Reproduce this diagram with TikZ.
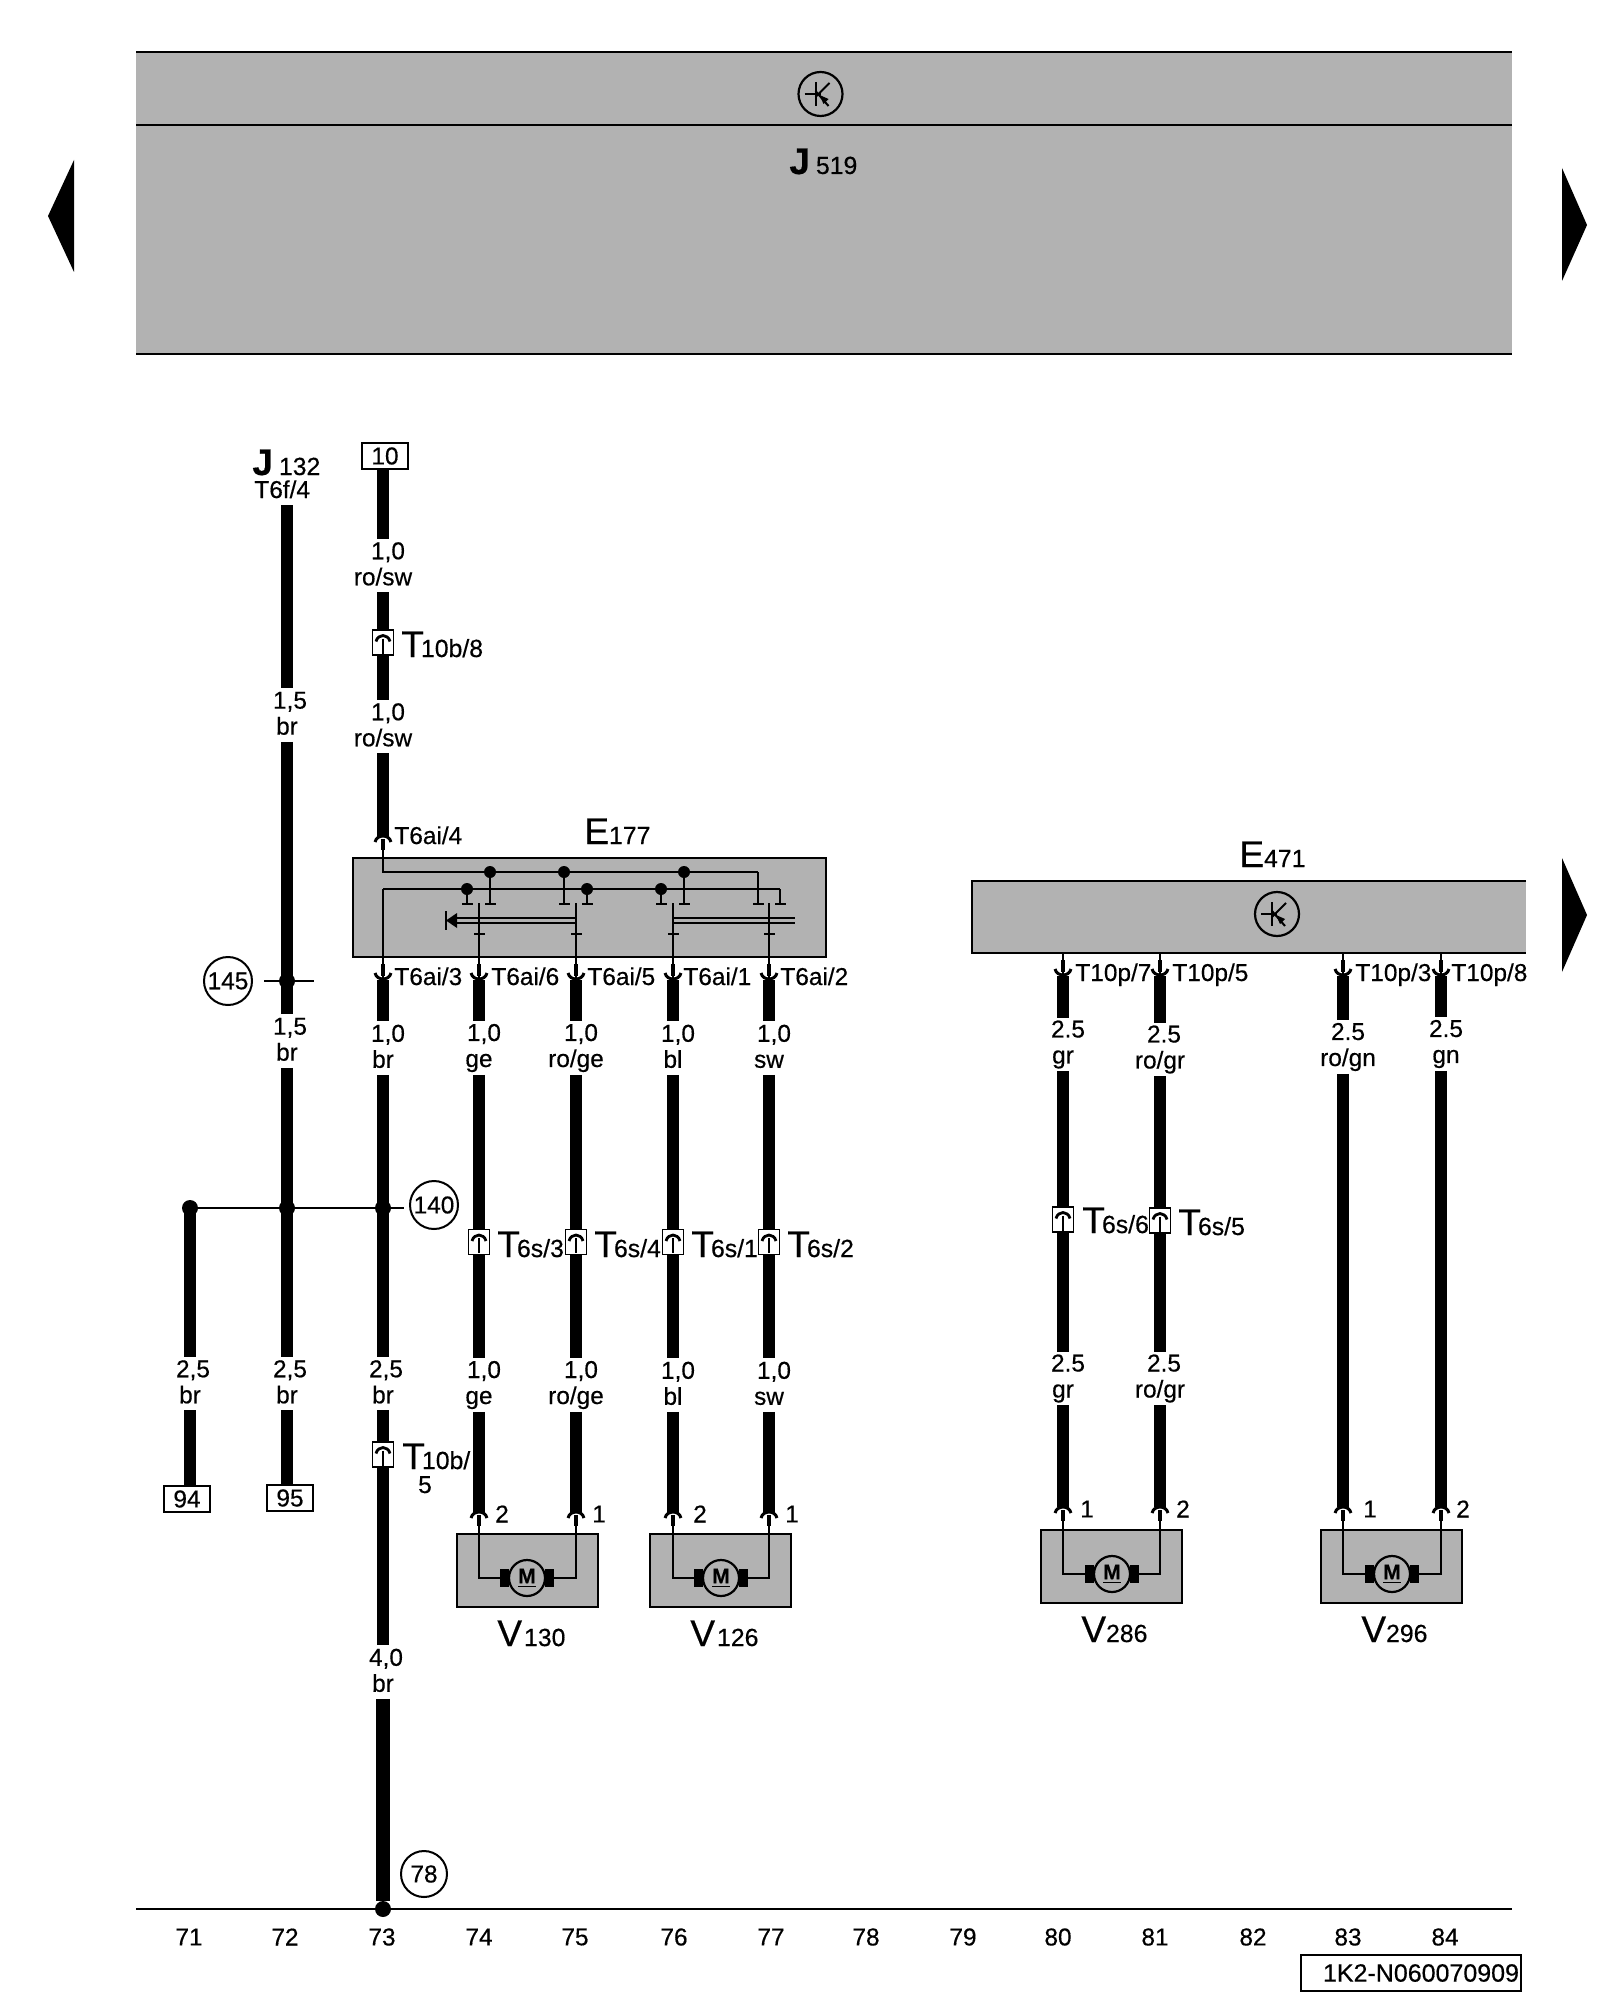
\documentclass[tikz,border=0pt]{standalone}
\usepackage{fontspec}
\setmainfont[FakeBold=0.4]{Liberation Sans}
\usetikzlibrary{arrows.meta}
\definecolor{unitgrey}{HTML}{B2B2B2}
\newcommand{\txtfont}{\fontsize{12.2}{13}\selectfont}
\newcommand{\bigname}[2]{{\fontsize{18.5}{20}\selectfont #1}{\fontsize{12.4}{14}\selectfont #2}}
\newcommand{\boldname}[2]{{\fontsize{18.5}{20}\selectfont\bfseries #1}\hspace{3pt}{\fontsize{12.4}{14}\selectfont #2}}
\newcommand{\plugname}[1]{{\fontsize{18.5}{20}\selectfont T}\hspace{-1.5pt}{\fontsize{12.4}{14}\selectfont #1}}
\newcommand{\topstrut}{\rule{0pt}{11.75pt}}
\newcommand{\botstrut}{\rule[-1.75pt]{0pt}{1.75pt}}
\tikzstyle{wire} = [line width=5.75pt,line cap=butt]
\tikzstyle{widewire} = [line width=6.2pt,line cap=butt]
\tikzstyle{mainwire} = [line width=7pt,line cap=butt]
\tikzstyle{thinwire} = [line width=1.3pt]
\tikzstyle{stub} = [line width=1.3pt,-{Bar[width=5.5pt,line width=1.1pt]}]
\tikzstyle{wlabel} = [inner sep=0pt,minimum height=26.5pt,align=center,font=\txtfont,
  execute at begin node=\topstrut,execute at end node=\botstrut]
\tikzstyle{txt} = [inner sep=0pt,anchor=base west,font=\txtfont]
\tikzstyle{colnum} = [inner sep=0pt,font=\txtfont]
\tikzstyle{partname} = [inner sep=0pt,anchor=base west]
\tikzstyle{joint} = [circle,fill,inner sep=0pt,minimum size=8pt]
\tikzstyle{smalljoint} = [circle,fill,inner sep=0pt,minimum size=6pt]
\tikzstyle{refcircle} = [circle,draw,line width=1pt,fill=white,inner sep=0pt,minimum size=24pt,font=\txtfont]
\tikzstyle{term} = [draw,line width=1pt,fill=white,inner sep=0pt,minimum width=23pt,minimum height=13pt,font=\txtfont]
\tikzstyle{conn} = [draw,line width=.9pt,fill=white,inner sep=0pt,minimum width=10.5pt,minimum height=12.5pt]
\tikzstyle{unit} = [draw,line width=1pt,fill=unitgrey,inner sep=0pt]
\tikzstyle{motorbox} = [unit,minimum width=70.5pt,minimum height=36.5pt]
\tikzstyle{motor} = [circle,draw,line width=1.1pt,fill=unitgrey,inner sep=0pt,minimum size=18pt,font=\fontsize{10.5}{11}\selectfont\bfseries]
\tikzset{
  plugdn/.pic={
    \draw[line width=2.3pt] (0,-16) -- (0,-4);
    \draw[line width=1.5pt] (-8,-7) .. controls (-6,1) and (6,1) .. (8,-7);
  },
  plugup/.pic={
    \draw[line width=2.3pt] (0,3) -- (0,14);
    \draw[line width=1.5pt] (-8,6) .. controls (-6,-2) and (6,-2) .. (8,6);
  },
  connmark/.pic={
    \draw[line width=1.4pt] (-7,-1) .. controls (-5,-9) and (5,-9) .. (7,-1);
    \draw[line width=1.2pt] (0,-4) -- (0,11);
  },
  brushes/.pic={
    \fill (-27,-9) rectangle (-18,9);
    \fill (18,-9) rectangle (27,9);
  },
  transistor/.pic={
    \draw[line width=1.1pt,fill=unitgrey] (0,0) circle (22);
    \draw[line width=1pt] (-5,-12) -- (-5,12);
    \draw[line width=1pt] (-16,0) -- (0,0);
    \draw[line width=1pt] (-5,3) -- (9,-11);
    \draw[line width=1pt] (-5,-3) -- (8,12);
    \fill (-1,1) -- (8,5) -- (3,10) -- cycle;
  }
}
\begin{document}
\begin{tikzpicture}[x=0.5pt,y=-0.5pt]
\useasboundingbox (0,0) rectangle (1600,2000);
%\draw[help lines,step=100] (0,0) grid (1600,2000);
\fill[unitgrey] (136,52) rectangle (1512,354);
\draw[line width=1pt] (136,52) -- (1512,52);
\draw[line width=1pt] (136,125) -- (1512,125);
\draw[line width=1pt] (136,354) -- (1512,354);
\pic at (820.5,94) {transistor};
\node[partname] (J519) at (789,174) {\boldname{J}{519}};
\fill (74,160) -- (48,216) -- (74,272) -- cycle;
\fill (1562,168) -- (1587,225) -- (1562,281) -- cycle;
\fill (1562,858) -- (1587,915) -- (1562,972) -- cycle;

\node[partname] (J132) at (252,475) {\boldname{J}{132}};
\node[txt] (T6f4) at (254,498) {T6f/4};
\coordinate (w72top) at (287,505);
\node[wlabel] (L72a) at (287,715) {\hspace*{3pt}1,5\\br};
\node[wlabel] (L72b) at (287,1041) {\hspace*{3pt}1,5\\br};
\node[wlabel] (L72c) at (287,1383.5) {\hspace*{3pt}2,5\\br};
\node[joint] (j145) at (287,981) {};
\node[joint] (j72) at (287,1208) {};
\node[refcircle] (r145) at (228,981) {145};
\coordinate (t145a) at (264,981);
\coordinate (t145b) at (314,981);
\draw[thinwire] (t145a) -- (t145b);
\node[term] (t95) at (290,1498) {95};
\draw[wire] (w72top) -- (L72a);
\draw[wire] (L72a) -- (L72b);
\draw[wire] (L72b) -- (L72c);
\draw[wire] (L72c) -- (L72c |- t95.north);

\node[joint] (j71) at (190,1208) {};
\node[wlabel] (L71) at (190,1383.5) {\hspace*{3pt}2,5\\br};
\node[term] (t94) at (187,1499) {94};
\draw[wire] (j71.center) -- (L71);
\draw[wire] (L71) -- (L71 |- t94.north);

\node[term] (t10) at (385,456) {10};
\node[wlabel] (L73a) at (383,565.5) {\hspace*{5pt}1,0\\ro/sw};
\node[conn] (c73a) at (383,642.5) {};
\node[txt] (T10b8) at (401,657) {\plugname{10b/8}};
\node[wlabel] (L73b) at (383,726.5) {\hspace*{5pt}1,0\\ro/sw};
\coordinate (p73top) at (383,836);
\node[txt] (T6ai4) at (394,844) {T6ai/4};
\draw[wire] (L73a |- t10.south) -- (L73a);
\draw[wire] (L73a) -- (c73a);
\draw[wire] (c73a) -- (L73b);
\draw[wire] (L73b) -- (p73top);
\pic at (c73a) {connmark};
\pic at (p73top) {plugup};

\node[unit,minimum width=236.5pt,minimum height=49.5pt] (E177) at (589.5,907.5) {};
\node[partname] (E177n) at (584,844) {\bigname{E}{177}};
\coordinate (rail1a) at (383,850);
\coordinate (rail1b) at (383,872);
\coordinate (rail1c) at (758,872);
\coordinate (rail2a) at (383,889);
\coordinate (rail2c) at (780,889);
\node[smalljoint] (ja) at (490,872) {};
\node[smalljoint] (jb) at (564,872) {};
\node[smalljoint] (jc) at (684,872) {};
\node[smalljoint] (jd) at (467,889) {};
\node[smalljoint] (je) at (587,889) {};
\node[smalljoint] (jf) at (661,889) {};
\draw[thinwire] (rail1a) -- (rail1b) -- (rail1c);
\draw[stub] (rail1c) -- +(0,33);
\draw[stub] (rail2c) -- +(0,16);
\draw[thinwire] (rail2a) -- (rail2c);
\draw[stub] (ja) -- +(0,33);
\draw[stub] (jb) -- +(0,33);
\draw[stub] (jc) -- +(0,33);
\draw[stub] (jd) -- +(0,16);
\draw[stub] (je) -- +(0,16);
\draw[stub] (jf) -- +(0,16);
\draw[thinwire] (576,918) -- (455,918);
\draw[thinwire] (576,923) -- (455,923);
\fill (446,920.5) -- (457,913) -- (457,928) -- cycle;
\draw[line width=1.2pt] (446,911) -- (446,930);
\draw[thinwire] (672,918) -- (795,918);
\draw[thinwire] (672,923) -- (795,923);

\coordinate (p73) at (383,980);
\coordinate (p74) at (479,980);
\coordinate (p75) at (576,980);
\coordinate (p76) at (673,980);
\coordinate (p77) at (769,980);
\coordinate (s74) at (479,903);
\coordinate (s75) at (576,903);
\coordinate (s76) at (673,903);
\coordinate (s77) at (769,903);
\coordinate (k74) at (479,935);
\coordinate (k75) at (576,935);
\coordinate (k76) at (673,935);
\coordinate (k77) at (769,935);
\draw[thinwire] (rail2a) -- (p73);
\draw[stub] (s74) -- (k74);
\draw[stub] (s75) -- (k75);
\draw[stub] (s76) -- (k76);
\draw[stub] (s77) -- (k77);
\draw[thinwire] (k74) -- (p74);
\draw[thinwire] (k75) -- (p75);
\draw[thinwire] (k76) -- (p76);
\draw[thinwire] (k77) -- (p77);
\pic at (p73) {plugdn};
\pic at (p74) {plugdn};
\pic at (p75) {plugdn};
\pic at (p76) {plugdn};
\pic at (p77) {plugdn};
\node[txt] (T6ai3) at (394,985) {T6ai/3};
\node[txt] (T6ai6) at (491,985) {T6ai/6};
\node[txt] (T6ai5) at (587,985) {T6ai/5};
\node[txt] (T6ai1) at (683,985) {T6ai/1};
\node[txt] (T6ai2) at (780,985) {T6ai/2};

\node[wlabel] (L73c) at (383,1048) {\hspace*{5pt}1,0\\br};
\node[wlabel] (L73d) at (383,1383.5) {\hspace*{3pt}2,5\\br};
\node[conn] (c73b) at (383,1454.5) {};
\node[txt] (T10b5) at (402,1469) {\plugname{10b/}};
\node[txt,anchor=base] (T10b5x) at (425,1493) {5};
\node[wlabel] (L73e) at (383,1672) {\hspace*{3pt}4,0\\br};
\node[joint] (j73) at (383,1208) {};
\node[joint] (j73z) at (383,1909) {};
\node[refcircle] (r140) at (434,1205) {140};
\node[refcircle,minimum size=23pt] (r78) at (424,1874) {78};
\draw[thinwire,shorten >=2.5pt] (j71) -- (j71 -| r140.west);
\draw[wire] (p73) -- (L73c);
\draw[wire] (L73c) -- (L73d);
\draw[wire] (L73d) -- (c73b);
\draw[wire] (c73b) -- (L73e);
\draw[mainwire] (L73e) -- (j73z);
\pic at (c73b) {connmark};

\node[wlabel] (L74a) at (479,1048) {\hspace*{5pt}1,0\\ge};
\node[wlabel] (L75a) at (576,1048) {\hspace*{5pt}1,0\\ro/ge};
\node[wlabel] (L76a) at (673,1048) {\hspace*{5pt}1,0\\bl};
\node[wlabel] (L77a) at (769,1048) {\hspace*{5pt}1,0\\sw};
\node[conn] (c74) at (479,1242) {};
\node[conn] (c75) at (576,1242) {};
\node[conn] (c76) at (673,1242) {};
\node[conn] (c77) at (769,1242) {};
\node[txt] (T6s3) at (497,1257) {\plugname{6s/3}};
\node[txt] (T6s4) at (594,1257) {\plugname{6s/4}};
\node[txt] (T6s1) at (691,1257) {\plugname{6s/1}};
\node[txt] (T6s2) at (787,1257) {\plugname{6s/2}};
\node[wlabel] (L74b) at (479,1385) {\hspace*{5pt}1,0\\ge};
\node[wlabel] (L75b) at (576,1385) {\hspace*{5pt}1,0\\ro/ge};
\node[wlabel] (L76b) at (673,1385) {\hspace*{5pt}1,0\\bl};
\node[wlabel] (L77b) at (769,1385) {\hspace*{5pt}1,0\\sw};
\coordinate (q74) at (479,1512);
\coordinate (q75) at (576,1512);
\coordinate (q76) at (673,1512);
\coordinate (q77) at (769,1512);
\coordinate (e74) at (479,1526);
\coordinate (e75) at (576,1526);
\coordinate (e76) at (673,1526);
\coordinate (e77) at (769,1526);
\draw[wire] (p74) -- (L74a);
\draw[wire] (L74a) -- (c74);
\draw[wire] (c74) -- (L74b);
\draw[wire] (L74b) -- (q74);
\draw[wire] (p75) -- (L75a);
\draw[wire] (L75a) -- (c75);
\draw[wire] (c75) -- (L75b);
\draw[wire] (L75b) -- (q75);
\draw[wire] (p76) -- (L76a);
\draw[wire] (L76a) -- (c76);
\draw[wire] (c76) -- (L76b);
\draw[wire] (L76b) -- (q76);
\draw[wire] (p77) -- (L77a);
\draw[wire] (L77a) -- (c77);
\draw[wire] (c77) -- (L77b);
\draw[wire] (L77b) -- (q77);
\pic at (c74) {connmark};
\pic at (c75) {connmark};
\pic at (c76) {connmark};
\pic at (c77) {connmark};
\pic at (q74) {plugup};
\pic at (q75) {plugup};
\pic at (q76) {plugup};
\pic at (q77) {plugup};

\node[motorbox] (V130) at (527,1570.5) {};
\node[motorbox] (V126) at (720.5,1570.5) {};
\node[motor] (m130) at (527,1578) {\underline{M}};
\node[motor] (m126) at (721,1578) {\underline{M}};
\draw[thinwire] (e74) |- (m130);
\draw[thinwire] (e75) |- (m130);
\draw[thinwire] (e76) |- (m126);
\draw[thinwire] (e77) |- (m126);
\pic at (m130) {brushes};
\pic at (m126) {brushes};
\node[colnum] (pin74) at (502,1514) {2};
\node[colnum] (pin75) at (599,1514) {1};
\node[colnum] (pin76) at (700,1514) {2};
\node[colnum] (pin77) at (792,1514) {1};
\node[partname] (V130n) at (497,1646) {\bigname{V}{\hspace{1pt}130}};
\node[partname] (V126n) at (690,1646) {\bigname{V}{\hspace{1pt}126}};

\node[partname] (E471n) at (1239,867) {\bigname{E}{471}};
\fill[unitgrey] (972,881) rectangle (1526,953);
\draw[line width=1pt] (1526,881) -- (972,881) -- (972,953) -- (1526,953);
\pic at (1277,914) {transistor};
\coordinate (p80) at (1063,976);
\coordinate (p81) at (1160,976);
\coordinate (p83) at (1343,976);
\coordinate (p84) at (1441,976);
\draw[thinwire] (1063,953) -- (p80);
\draw[thinwire] (1160,953) -- (p81);
\draw[thinwire] (1343,953) -- (p83);
\draw[thinwire] (1441,953) -- (p84);
\pic at (p80) {plugdn};
\pic at (p81) {plugdn};
\pic at (p83) {plugdn};
\pic at (p84) {plugdn};
\node[txt] (T10p7) at (1075,981) {T10p/7};
\node[txt] (T10p5) at (1172,981) {T10p/5};
\node[txt] (T10p3) at (1355,981) {T10p/3};
\node[txt] (T10p8) at (1451,981) {T10p/8};
\node[wlabel] (L80a) at (1063,1044.5) {\hspace*{5pt}2.5\\gr};
\node[wlabel] (L81a) at (1160,1049.5) {\hspace*{4pt}2.5\\ro/gr};
\node[wlabel] (L83) at (1343,1047) {\hspace*{5pt}2.5\\\hspace*{5pt}ro/gn};
\node[wlabel] (L84) at (1441,1044) {\hspace*{5pt}2.5\\\hspace*{5pt}gn};
\node[conn] (c80) at (1063,1219.5) {};
\node[conn] (c81) at (1160,1220.5) {};
\node[txt] (T6s6) at (1082,1233) {\plugname{6s/6}};
\node[txt] (T6s5) at (1178,1235) {\plugname{6s/5}};
\node[wlabel] (L80b) at (1063,1378.5) {\hspace*{5pt}2.5\\gr};
\node[wlabel] (L81b) at (1160,1378.5) {\hspace*{4pt}2.5\\ro/gr};
\coordinate (q80) at (1063,1507);
\coordinate (q81) at (1160,1507);
\coordinate (q83) at (1343,1507);
\coordinate (q84) at (1441,1507);
\coordinate (e80) at (1063,1521);
\coordinate (e81) at (1160,1521);
\coordinate (e83) at (1343,1521);
\coordinate (e84) at (1441,1521);
\draw[widewire] (p80) -- (L80a);
\draw[widewire] (L80a) -- (c80);
\draw[widewire] (c80) -- (L80b);
\draw[widewire] (L80b) -- (q80);
\draw[widewire] (p81) -- (L81a);
\draw[widewire] (L81a) -- (c81);
\draw[widewire] (c81) -- (L81b);
\draw[widewire] (L81b) -- (q81);
\draw[widewire] (p83) -- (L83);
\draw[widewire] (L83) -- (q83);
\draw[widewire] (p84) -- (L84);
\draw[widewire] (L84) -- (q84);
\pic at (c80) {connmark};
\pic at (c81) {connmark};
\pic at (q80) {plugup};
\pic at (q81) {plugup};
\pic at (q83) {plugup};
\pic at (q84) {plugup};

\node[motorbox] (V286) at (1111.5,1566.5) {};
\node[motorbox] (V296) at (1391.5,1566.5) {};
\node[motor] (m286) at (1112,1574) {\underline{M}};
\node[motor] (m296) at (1392,1574) {\underline{M}};
\draw[thinwire] (e80) |- (m286);
\draw[thinwire] (e81) |- (m286);
\draw[thinwire] (e83) |- (m296);
\draw[thinwire] (e84) |- (m296);
\pic at (m286) {brushes};
\pic at (m296) {brushes};
\node[colnum] (pin80) at (1087,1509) {1};
\node[colnum] (pin81) at (1183,1509) {2};
\node[colnum] (pin83) at (1370,1509) {1};
\node[colnum] (pin84) at (1463,1509) {2};
\node[partname] (V286n) at (1081,1642) {\bigname{V}{286}};
\node[partname] (V296n) at (1361,1642) {\bigname{V}{296}};

\coordinate (baseL) at (136,1909);
\coordinate (baseR) at (1512,1909);
\draw[line width=1pt] (baseL) -- (baseR);
\node[colnum] (n71) at (189,1937) {71};
\node[colnum] (n72) at (285,1937) {72};
\node[colnum] (n73) at (382,1937) {73};
\node[colnum] (n74) at (479,1937) {74};
\node[colnum] (n75) at (575,1937) {75};
\node[colnum] (n76) at (674,1937) {76};
\node[colnum] (n77) at (771,1937) {77};
\node[colnum] (n78) at (866,1937) {78};
\node[colnum] (n79) at (963,1937) {79};
\node[colnum] (n80) at (1058,1937) {80};
\node[colnum] (n81) at (1155,1937) {81};
\node[colnum] (n82) at (1253,1937) {82};
\node[colnum] (n83) at (1348,1937) {83};
\node[colnum] (n84) at (1445,1937) {84};
\node[draw,line width=1pt,inner ysep=0pt,inner xsep=1pt,minimum height=18pt,text width=108pt,align=right,font=\fontsize{12.5}{13}\selectfont] (docno) at (1411,1973) {1K2-N060070909};
\end{tikzpicture}
\end{document}
